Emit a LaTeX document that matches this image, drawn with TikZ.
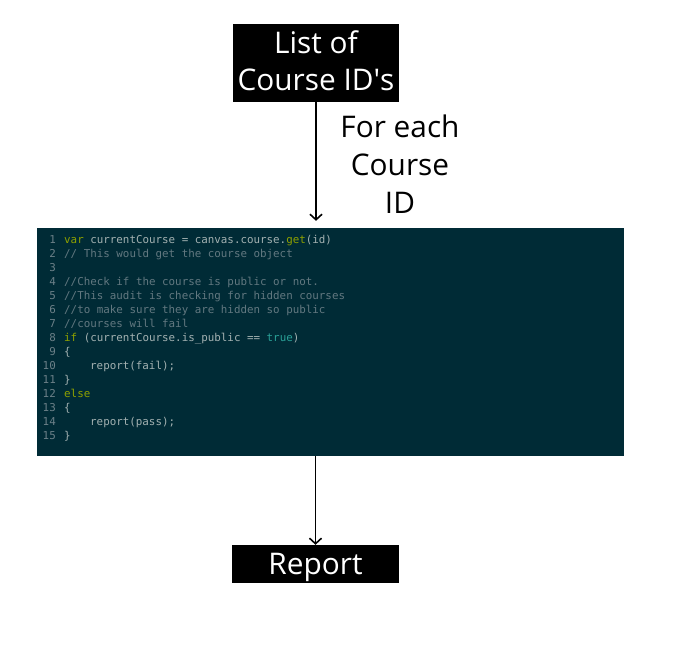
\documentclass[tikz,border=0pt]{standalone}
\usepackage{fontspec}
\setmainfont{Open Sans}
\setmonofont{DejaVu Sans Mono}
\usetikzlibrary{arrows.meta}
\definecolor{codebg}{HTML}{002B36}
\definecolor{codefg}{HTML}{A3B1B1}
\definecolor{codecm}{HTML}{627880}
\definecolor{codenum}{HTML}{6C8088}
\definecolor{codekw}{HTML}{8FA100}
\definecolor{codecy}{HTML}{2AA198}
\newcommand{\kw}[1]{\textcolor{codekw}{#1}}
\newcommand{\cm}[1]{\textcolor{codecm}{#1}}
\newcommand{\cy}[1]{\textcolor{codecy}{#1}}
\tikzset{
  blackbox/.style={fill=black, text=white, font=\fontsize{29.8}{37}\selectfont,
    align=center, inner sep=0pt},
  lbl/.style={font=\fontsize{29.8}{38}\selectfont, align=center, inner sep=0pt, text=black},
  codebox/.style={fill=codebg, inner sep=0pt, minimum width=587pt, minimum height=228pt},
  codeln/.style={font=\fontsize{10.85}{14}\ttfamily, text=codefg, anchor=base west, inner sep=0pt},
  codenr/.style={font=\fontsize{10.85}{14}\ttfamily, text=codenum, anchor=base east, inner sep=0pt},
  arr/.style={draw=black, line width=1.6pt, -{Straight Barb[length=5.5pt,width=12pt]}}
}
\begin{document}
\begin{tikzpicture}[x=1pt,y=-1pt]
\useasboundingbox (0,0) rectangle (685,653);
\fill[white] (0,0) rectangle (685,653);

\node[blackbox, minimum width=166pt, minimum height=78pt] (list) at (316,63)
  {List of\\Course ID\textquotesingle s\rule[-5.8pt]{0pt}{5.8pt}};
\node[lbl] (each) at (400,164.6) {For each\\Course\\ID};

\node[codebox] (code) at (330.5,342) {};
\def\lx{64}
\def\ix{90}
\foreach \n in {1,...,15} {
  \node[codenr] (nr\n) at (56,{243.5+14*(\n-1)}) {\n};
}
\node[codeln] (c1) at (\lx,243.5) {\kw{var} currentCourse = canvas.course.\kw{get}(id)};
\node[codeln] (c2) at (\lx,257.5) {\cm{// This would get the course object}};
\node[codeln] (c4) at (\lx,285.5) {\cm{//Check if the course is public or not.}};
\node[codeln] (c5) at (\lx,299.5) {\cm{//This audit is checking for hidden courses}};
\node[codeln] (c6) at (\lx,313.5) {\cm{//to make sure they are hidden so public}};
\node[codeln] (c7) at (\lx,327.5) {\cm{//courses will fail}};
\node[codeln] (c8) at (\lx,341.5) {\kw{if} (currentCourse.is\_public == \cy{true})};
\node[codeln] (c9) at (\lx,355.5) {\{};
\node[codeln] (c10) at (\ix,369.5) {report(fail);};
\node[codeln] (c11) at (\lx,383.5) {\}};
\node[codeln] (c12) at (\lx,397.5) {\kw{else}};
\node[codeln] (c13) at (\lx,411.5) {\{};
\node[codeln] (c14) at (\ix,425.5) {report(pass);};
\node[codeln] (c15) at (\lx,439.5) {\}};

\node[blackbox, minimum width=167pt, minimum height=38pt] (report) at (315.5,564)
  {\rule{0pt}{29pt}Report};

\draw[arr, shorten >=7pt] (list.south) -- (list.south |- code.north);
\draw[arr] (report.north |- code.south) -- (report.north);
\end{tikzpicture}
\end{document}
